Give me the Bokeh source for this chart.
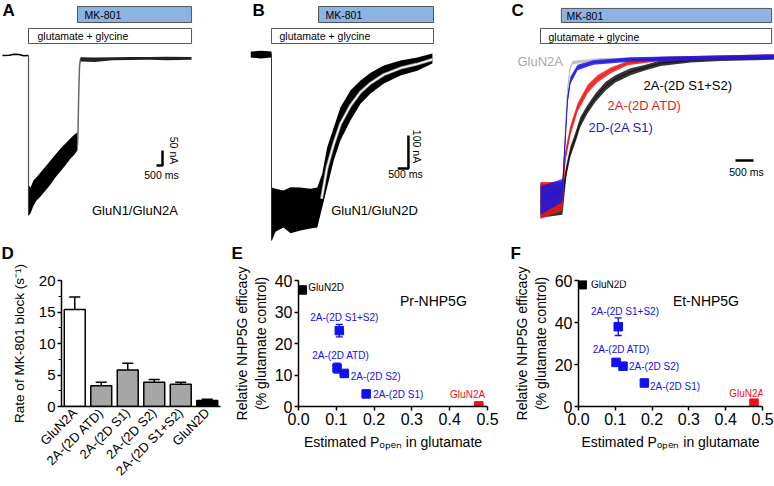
import math
import numpy as np
from bokeh.plotting import figure
from bokeh.models import (Range1d, FactorRange, Label, ColumnDataSource, Whisker, TeeHead,
                          SingleIntervalTicker, FixedTicker, NumeralTickFormatter)
from bokeh.layouts import column, row
from bokeh.embed import file_html
from bokeh.resources import INLINE

FONT = "Liberation Sans"

# ---------------- Panel A : GluN1/GluN2A trace (time s, current nA) ----------------
a_pre_t = [-2.17, -1.6, -1.2, -0.8, -0.4, 0.0]
a_pre_i = [0, 1, 4, 3, -1, 0]
a_band_t = [0.02, 0.17, 0.42, 0.67, 1.0, 1.42, 1.83, 2.25, 2.67, 3.08, 3.5, 3.83, 4.08]
a_band_lo = [-533, -526, -500, -483, -470, -450, -430, -406, -386, -366, -343, -330, -316]
a_band_hi = [-433, -440, -416, -406, -390, -370, -350, -330, -310, -293, -276, -263, -256]
a_jump_t = [4.08, 4.12, 4.17, 4.25, 4.33, 4.5]
a_jump_i = [-300, -260, -150, -35, -12, -8]
a_post_t = [4.33, 5.5, 7.0, 8.5, 10.0, 11.5, 13.58]
a_post_lo = [-20, -22, -16, -15, -14, -16, -14]
a_post_hi = [-6, -7, -6, -5, -5, -4, -5]
a_glu = [0.0, 13.58]
a_mk = [4.08, 13.58]

# ---------------- Panel B : GluN1/GluN2D trace ----------------
b_pre_t = [-0.98, -0.5, 0.0]
b_pre_lo = [-12, -15, -12]
b_pre_hi = [6, 8, 6]
b_band_t = [0.02, 0.19, 0.56, 0.89, 1.35, 1.82, 2.14, 2.37, 2.60, 2.91, 3.22, 3.69, 4.16, 4.63, 5.25, 6.03, 6.81, 7.52]
b_band_lo = [-567, -540, -527, -545, -536, -530, -527, -467, -406, -324, -264, -203, -152, -121, -91, -67, -52, -30]
b_band_hi = [-406, -410, -415, -405, -406, -410, -406, -364, -285, -224, -164, -112, -82, -58, -36, -21, -12, 0]
b_fit_t = [2.34, 2.60, 2.91, 3.22, 3.69, 4.16, 4.63, 5.25, 6.03, 6.81, 7.52]
b_fit_i = [-440, -345, -274, -214, -158, -117, -90, -64, -44, -32, -18]
b_glu = [0.0, 7.57]
b_mk = [2.20, 7.57]

# ---------------- Panel C : normalised traces ----------------
c_black_t = [0, 0.61, 0.72, 0.83, 0.97, 1.11, 1.31, 1.53, 1.81, 2.08, 2.5, 2.92, 3.34, 4.17, 5.0, 6.48]
c_black_i = [-1.0, -1.0, -0.79, -0.66, -0.56, -0.45, -0.36, -0.28, -0.20, -0.15, -0.10, -0.07, -0.04, -0.02, -0.01, 0.0]
c_black_n = [0.12, 0.10, 0.04, 0.035, 0.035, 0.035, 0.03, 0.03, 0.03, 0.025, 0.025, 0.02, 0.02, 0.015, 0.015, 0.015]
c_red_t = [0, 0.61, 0.69, 0.83, 1.03, 1.31, 1.58, 1.95, 2.42, 3.34, 6.48]
c_red_i = [-1.0, -0.97, -0.69, -0.51, -0.35, -0.22, -0.15, -0.09, -0.04, -0.01, 0.01]
c_red_n = [0.13, 0.10, 0.04, 0.035, 0.03, 0.03, 0.025, 0.02, 0.015, 0.015, 0.012]
c_blue_t = [0, 0.61, 0.67, 0.75, 0.83, 1.03, 1.47, 2.5, 6.48]
c_blue_i = [-1.0, -0.93, -0.65, -0.30, -0.16, -0.07, -0.035, -0.014, 0.007]
c_blue_n = [0.10, 0.08, 0.04, 0.03, 0.025, 0.02, 0.015, 0.015, 0.015]
c_grey_t = [0, 0.61, 0.69, 0.75, 0.81, 0.89, 1.67, 6.48]
c_grey_i = [-1.0, -0.97, -0.51, -0.23, -0.09, -0.035, -0.014, 0.0]
c_grey_n = [0.08, 0.05, 0.02, 0.015, 0.012, 0.012, 0.01, 0.01]
c_glu = [0.0, 6.42]
c_mk = [0.58, 6.42]

# ---------------- Panel D : rate of MK-801 block ----------------
d_cats = ["GluN2A", "2A-(2D ATD)", "2A-(2D S1)", "2A-(2D S2)", "2A-(2D S1+S2)", "GluN2D"]
d_vals = [15.4, 3.3, 5.8, 3.85, 3.55, 0.95]
d_err = [2.0, 0.55, 1.05, 0.45, 0.3, 0.2]
d_fill = ["white", "#A6A6A6", "#A6A6A6", "#A6A6A6", "#A6A6A6", "black"]

# ---------------- Panels E/F : efficacy vs Popen ----------------
ef_names = ["GluN2D", "2A-(2D S1+S2)", "2A-(2D ATD)", "2A-(2D S2)", "2A-(2D S1)", "GluN2A"]
ef_popen = [0.01, 0.108, 0.102, 0.121, 0.179, 0.477]
ef_colors = ["black", "#1010F0", "#1010F0", "#1010F0", "#1010F0", "#F01010"]
e_eff = [37.0, 24.1, 12.2, 10.5, 4.0, 0.2]
e_err = [0.5, 2.0, 1.6, 0.6, 0.4, 0.3]
f_eff = [58.0, 38.0, 21.0, 19.2, 11.2, 1.6]
f_err = [0.5, 4.2, 1.5, 1.0, 0.8, 0.5]


def frame_map(ox0, ox1, oy0, oy1, xr, yr):
    """pixel position of a text -> data coordinates of the panel"""
    def f(xo, yo):
        return (xr[0] + (xo - ox0) * (xr[1] - xr[0]) / (ox1 - ox0),
                yr[1] - (yo - oy0) * (yr[1] - yr[0]) / (oy1 - oy0))
    return f


def add_text(p, m, xo, yo, text, size=13, color="black", align="left", baseline="middle",
             angle=0.0, bold=False):
    x, y = m(xo, yo)
    p.add_layout(Label(x=x, y=y, text=text, text_font=FONT, text_font_size=f"{size}px",
                       text_color=color, text_align=align, text_baseline=baseline, angle=angle,
                       text_font_style="bold" if bold else "normal"))


def trace_fig(w, h, xr, yr):
    p = figure(width=w, height=h, x_range=Range1d(*xr), y_range=Range1d(*yr),
               output_backend="svg", toolbar_location=None, x_axis_location=None,
               y_axis_location=None, min_border=0, title=None)
    p.outline_line_color = None
    p.grid.visible = False
    return p


def stim(p, glu, glu_y, mk, mk_y):
    p.quad(left=[glu[0]], right=[glu[1]], bottom=[glu_y[0]], top=[glu_y[1]],
           fill_color="white", line_color="#555555", line_width=1)
    p.quad(left=[mk[0]], right=[mk[1]], bottom=[mk_y[0]], top=[mk_y[1]],
           fill_color="#8DB3E2", line_color="#555555", line_width=1)


TOP_H = 262
BOT_H = 224

# ---------- A ----------
A_XR = (-2.333, 18.49)
A_YR = (-690.0, 183.3)
pa = trace_fig(250, TOP_H, A_XR, A_YR)
ma = frame_map(0, 250, 0, TOP_H, A_XR, A_YR)
stim(pa, a_glu, (40, 90), a_mk, (110, 163))
pa.line(a_pre_t, a_pre_i, line_color="black", line_width=1.5)
pa.segment(x0=[0.0], y0=[0.0], x1=[0.0], y1=[-533.0], line_color="#555555", line_width=1.2)
pa.varea(x=a_band_t, y1=a_band_lo, y2=a_band_hi, fill_color="black")
pa.line(a_jump_t, a_jump_i, line_color="#666666", line_width=1.5)
pa.varea(x=a_post_t, y1=a_post_lo, y2=a_post_hi, fill_color="#222222")
sbx, sby = 11.16, -366.7
pa.line([sbx - 0.5, sbx, sbx], [sby, sby, sby + 50], line_color="black", line_width=2.5)
add_text(pa, ma, 2, 10, "A", size=17, bold=True)
add_text(pa, ma, 84, 14.5, "MK-801", size=10.5)
add_text(pa, ma, 37, 35.5, "glutamate + glycine", size=10.5)
add_text(pa, ma, 161, 174, "500 ms", size=10.5, align="center")
add_text(pa, ma, 173, 150, "50 nA", size=10.5, align="center", angle=-math.pi / 2)
add_text(pa, ma, 134.5, 210, "GluN1/GluN2A", size=13, align="center")
add_text(pa, ma, 1, 253, "D", size=17, bold=True)
add_text(pa, ma, 231, 253, "E", size=17, bold=True)

# ---------- B ----------
B_XR = (-0.981, 11.17)
B_YR = (-633.3, 160.6)
pb = trace_fig(260, TOP_H, B_XR, B_YR)
mb = frame_map(250, 510, 0, TOP_H, B_XR, B_YR)
stim(pb, b_glu, (30.3, 75.8), b_mk, (93.9, 142.4))
pb.varea(x=b_pre_t, y1=b_pre_lo, y2=b_pre_hi, fill_color="black")
pb.segment(x0=[0.0], y0=[0.0], x1=[0.0], y1=[-567.0], line_color="#333333", line_width=1)
pb.varea(x=b_band_t, y1=b_band_lo, y2=b_band_hi, fill_color="black")
pb.line(b_fit_t, b_fit_i, line_color="#999999", line_width=3)
pb.line(b_fit_t, b_fit_i, line_color="white", line_width=1.3)
sbx, sby = 6.40, -348.5
pb.line([sbx - 0.5, sbx, sbx], [sby, sby, sby + 100], line_color="black", line_width=2.5)
add_text(pb, mb, 252, 10, "B", size=17, bold=True)
add_text(pb, mb, 325, 14.5, "MK-801", size=10.5)
add_text(pb, mb, 279, 35.5, "glutamate + glycine", size=10.5)
add_text(pb, mb, 405, 173, "500 ms", size=10.5, align="center")
add_text(pb, mb, 416.5, 146, "100 nA", size=10.5, align="center", angle=-math.pi / 2)
add_text(pb, mb, 374, 210, "GluN1/GluN2D", size=13, align="center")

# ---------- C ----------
C_XR = (-0.833, 6.50)
C_YR = (-1.4336, 0.3986)
pc = trace_fig(264, TOP_H, C_XR, C_YR)
mc = frame_map(510, 774, 0, TOP_H, C_XR, C_YR)
stim(pc, c_glu, (0.098, 0.203), c_mk, (0.245, 0.343))
for t, i, n, col in [(c_grey_t, c_grey_i, c_grey_n, "#BDBDBD"),
                     (c_black_t, c_black_i, c_black_n, "#111111"),
                     (c_red_t, c_red_i, c_red_n, "#F01818"),
                     (c_blue_t, c_blue_i, c_blue_n, "#1818E0")]:
    ia = np.array(i)
    na = np.array(n)
    pc.varea(x=t, y1=ia - na, y2=ia + na, fill_color=col, fill_alpha=0.85)
    pc.line(t, i, line_color=col, line_width=1)
sbx, sby = 5.917, -0.72
pc.line([sbx - 0.5, sbx], [sby, sby], line_color="black", line_width=2.5)
add_text(pc, mc, 511, 10, "C", size=17, bold=True)
add_text(pc, mc, 566, 15, "MK-801", size=10.5)
add_text(pc, mc, 548, 36, "glutamate + glycine", size=10.5)
add_text(pc, mc, 517, 61, "GluN2A", size=13, color="#A8A8A8")
add_text(pc, mc, 643, 85, "2A-(2D S1+S2)", size=13, color="black")
add_text(pc, mc, 607, 105, "2A-(2D ATD)", size=13, color="#F01818")
add_text(pc, mc, 588, 127, "2D-(2A S1)", size=13, color="#1818E0")
add_text(pc, mc, 746, 171, "500 ms", size=10.5, align="center")
add_text(pc, mc, 510, 253, "F", size=17, bold=True)


def style_axes(p, tick_size="16px"):
    for ax in p.axis:
        ax.axis_line_width = 1.5
        ax.axis_line_color = "black"
        ax.major_tick_line_width = 1.5
        ax.major_tick_in = 0
        ax.major_tick_out = 4
        ax.minor_tick_in = 0
        ax.minor_tick_out = 3
        ax.minor_tick_line_width = 1.2
        ax.major_label_text_font = FONT
        ax.major_label_text_font_size = tick_size
        ax.major_label_text_color = "black"
        ax.major_label_standoff = 2
        ax.axis_label_text_font = FONT
        ax.axis_label_text_font_size = "14px"
        ax.axis_label_text_font_style = "normal"
        ax.axis_label_text_color = "black"
        ax.axis_label_standoff = 4
    p.grid.visible = False
    p.outline_line_color = None


# ---------- D ----------
pd_ = figure(width=230, height=BOT_H, x_range=FactorRange(*d_cats), y_range=Range1d(0, 20),
             output_backend="svg", toolbar_location=None, title=None,
             min_border_left=61, min_border_right=10, min_border_top=18, min_border_bottom=79)
d_top = [v + e for v, e in zip(d_vals, d_err)]
dsrc = ColumnDataSource(dict(x=d_cats, top=d_vals, up=d_top, fill=d_fill))
pd_.add_layout(Whisker(source=dsrc, base="x", lower="top", upper="up", line_width=1.5,
                       upper_head=TeeHead(size=11, line_width=1.5), lower_head=None))
pd_.vbar(x="x", top="top", width=0.79, source=dsrc, fill_color="fill", line_color="black",
         line_width=1.5)
style_axes(pd_, "15px")
pd_.yaxis.ticker = SingleIntervalTicker(interval=5, num_minor_ticks=2)
pd_.yaxis.axis_label = "Rate of MK-801 block (s\u207b\u00b9)"
pd_.yaxis.axis_label_text_font_size = "13.5px"
pd_.yaxis.axis_label_standoff = 9
pd_.xaxis.major_label_orientation = math.pi / 4
pd_.xaxis.major_tick_line_color = None
pd_.xaxis.major_label_text_font_size = "13px"
pd_.xaxis.major_label_standoff = 0


# ---------- E / F ----------
def ef_fig(width, left, right, ymax, yticks, eff, err, frame_ox, title_text, title_pos):
    p = figure(width=width, height=BOT_H, x_range=Range1d(0, 0.5), y_range=Range1d(0, ymax),
               output_backend="svg", toolbar_location=None, title=None,
               min_border_left=left, min_border_right=right, min_border_top=18,
               min_border_bottom=79)
    m = frame_map(frame_ox[0], frame_ox[1], 280, 407, (0, 0.5), (0, ymax))
    lo = [v - e for v, e in zip(eff, err)]
    hi = [v + e for v, e in zip(eff, err)]
    src = ColumnDataSource(dict(x=ef_popen, y=eff, lo=lo, hi=hi, c=ef_colors))
    p.add_layout(Whisker(source=src, base="x", lower="lo", upper="hi", dimension="height",
                         line_color="c", line_width=1.3,
                         upper_head=TeeHead(size=7, line_width=1.3, line_color="#1010F0"),
                         lower_head=TeeHead(size=7, line_width=1.3, line_color="#1010F0")))
    p.scatter(x="x", y="y", source=src, marker="square", size=8.5, fill_color="c", line_color="c")
    style_axes(p, "16px")
    p.xaxis.ticker = FixedTicker(ticks=[0.0, 0.1, 0.2, 0.3, 0.4, 0.5])
    p.xaxis.formatter = NumeralTickFormatter(format="0.0")
    p.xaxis.axis_label = "Estimated P\u2092\u209a\u2091\u2099 in glutamate"
    p.xaxis.axis_label_standoff = 6
    p.yaxis.ticker = FixedTicker(ticks=yticks)
    p.yaxis.axis_label = "Relative NHP5G efficacy\n(% glutamate control)"
    p.yaxis.axis_label_standoff = 3
    add_text(p, m, title_pos[0], title_pos[1], title_text, size=14)
    return p, m


pe, me = ef_fig(280, 65, 23, 40, [0, 10, 20, 30, 40], e_eff, e_err, (295, 487),
                "Pr-NHP5G", (398, 301))
for name, (xo, yo), col in zip(ef_names,
                               [(305, 287), (307, 317), (309, 356), (348, 377), (371, 395), (449, 395)],
                               ef_colors):
    add_text(pe, me, xo, yo, name, size=10, color=col)

pf, mf = ef_fig(264, 59, 12, 60, [0, 20, 40, 60], f_eff, f_err, (569, 762),
                "Et-NHP5G", (668, 301))
for name, (xo, yo), col in zip(ef_names,
                               [(582, 284), (582, 311), (584, 350), (622, 367), (644, 387), (727, 394)],
                               ef_colors):
    add_text(pf, mf, xo, yo, name, size=10, color=col)

layout = column(row(pa, pb, pc), row(pd_, pe, pf))
open("out.html", "w").write(file_html(layout, INLINE))
